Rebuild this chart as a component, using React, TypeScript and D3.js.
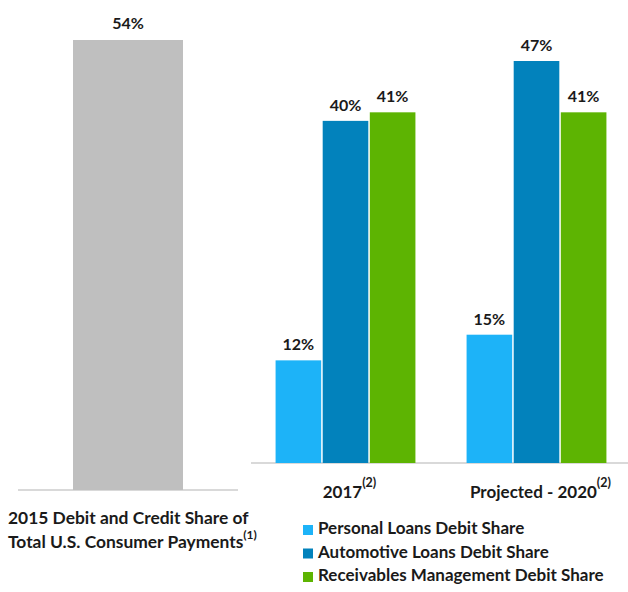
import * as d3 from 'd3';

// values
const groups = ['2017', 'Projected - 2020'];
const groupNotes = ['(2)', '(2)'];
const seriesNames = [
  'Personal Loans Debit Share',
  'Automotive Loans Debit Share',
  'Receivables Management Debit Share',
];
const personalLoans = [12, 15];
const automotiveLoans = [40, 47];
const receivables = [41, 41];
const seriesValues = [personalLoans, automotiveLoans, receivables];
const seriesColors = ['#1DB3F8', '#0282BC', '#5DB402'];

const totalLabelLines = ['2015 Debit and Credit Share of', 'Total U.S. Consumer Payments'];
const totalNote = '(1)';
const totalShare = [54];

const width = 628;
const height = 592;
const font = 'Lato, "Open Sans", sans-serif';

export default function App() {
  // left panel
  const xLeft = d3.scaleBand<string>().domain(['total']).range([18, 238]).paddingInner(0).paddingOuter(0.5);
  const yLeft = d3.scaleLinear().domain([0, 54]).range([490, 40]);

  // right panel
  const x0 = d3.scaleBand<string>().domain(groups).range([250, 632]).paddingInner(0.26).paddingOuter(0.13);
  const x1 = d3.scaleBand<number>().domain(d3.range(seriesNames.length)).range([0, x0.bandwidth()]);
  const yRight = d3.scaleLinear().domain([0, 47]).range([463, 61]);

  const pct = (v: number) => `${v}%`;

  return (
    <svg width={width} height={height} style={{ position: 'absolute', left: 0, top: 0, background: '#fff' }} fontFamily={font}>
      {/* left single bar */}
      <line x1={18} x2={238} y1={yLeft(0)} y2={yLeft(0)} stroke="#d9d9d9" strokeWidth={2} />
      {totalShare.map((v, i) => (
        <g key={i}>
          <rect x={xLeft('total')} y={yLeft(v)} width={xLeft.bandwidth()} height={yLeft(0) - yLeft(v)} fill="#BFBFBF" />
          <text x={(xLeft('total') as number) + xLeft.bandwidth() / 2} y={yLeft(v) - 15} textAnchor="middle"
            dominantBaseline="middle" fontSize={16} fontWeight="bold" fill="#1a1a1a">{pct(v)}</text>
        </g>
      ))}
      <text fontSize={17.4} fontWeight="bold" fill="#1a1a1a">
        <tspan x={8} y={524}>{totalLabelLines[0]}</tspan>
        <tspan x={8} y={548}>{totalLabelLines[1]}</tspan>
        <tspan fontSize={12} dy={-9}>{totalNote}</tspan>
      </text>

      {/* right grouped bars */}
      <line x1={251} x2={628} y1={yRight(0)} y2={yRight(0)} stroke="#d9d9d9" strokeWidth={2} />
      {groups.map((g, gi) => (
        <g key={g} transform={`translate(${x0(g)},0)`}>
          {seriesValues.map((vals, si) => (
            <g key={si}>
              <rect x={(x1(si) as number) + 0.75} y={yRight(vals[gi])} width={x1.bandwidth() - 1.5}
                height={yRight(0) - yRight(vals[gi])} fill={seriesColors[si]} />
              <text x={(x1(si) as number) + x1.bandwidth() / 2} y={yRight(vals[gi]) - 14} textAnchor="middle"
                dominantBaseline="middle" fontSize={16} fontWeight="bold" fill="#1a1a1a">{pct(vals[gi])}</text>
            </g>
          ))}
          <text x={x0.bandwidth() / 2 + 4} y={498} textAnchor="middle" fontSize={17} fontWeight="bold" fill="#1a1a1a">
            {g}<tspan fontSize={12.5} dy={-11}>{groupNotes[gi]}</tspan>
          </text>
        </g>
      ))}

      {/* legend */}
      {seriesNames.map((name, i) => (
        <g key={name} transform={`translate(303,${530 + i * 23.5})`}>
          <rect x={0} y={-5} width={10} height={10} fill={seriesColors[i]} />
          <text x={15} y={0} dominantBaseline="middle" fontSize={17} fontWeight="bold" fill="#1a1a1a">{name}</text>
        </g>
      ))}
    </svg>
  );
}
